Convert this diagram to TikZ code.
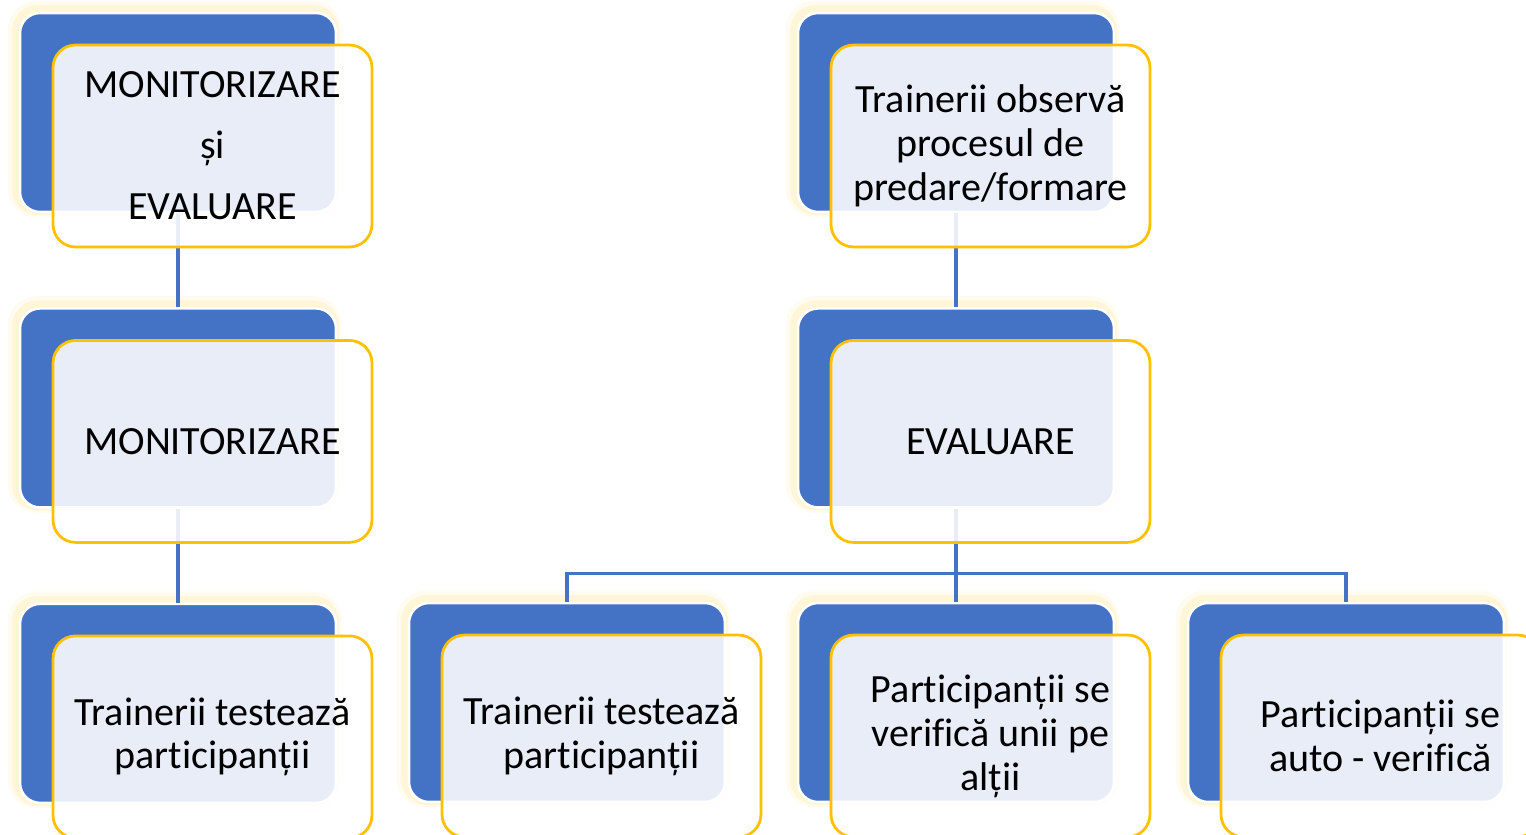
\documentclass[tikz,border=0pt]{standalone}
\usepackage{fontspec}
\setmainfont{Carlito}[Ligatures=NoCommon]
\usetikzlibrary{positioning}

\definecolor{boxblue}{HTML}{4472C4}
\definecolor{boxgold}{HTML}{FFC000}
\definecolor{glowgold}{HTML}{FFE28A}

\tikzset{
  backbox/.style={draw=white, line width=0.05cm, fill=boxblue, rounded corners=0.4cm,
    minimum width=6.32cm, minimum height=3.98cm,
    preaction={draw=glowgold, line width=0.36cm, opacity=0.12, transform canvas={xshift=-0.07cm, yshift=0.07cm}},
    preaction={draw=glowgold, line width=0.22cm, opacity=0.25, transform canvas={xshift=-0.05cm, yshift=0.05cm}}},
  frontbox/.style={draw=boxgold, line width=0.055cm, fill=white, fill opacity=0.88, text opacity=1,
    rounded corners=0.45cm, minimum width=6.38cm, minimum height=4.04cm,
    align=center, font=\fontsize{22.8pt}{25pt}\selectfont},
  link/.style={draw=boxblue, line width=0.065cm}
}

\begin{document}
\begin{tikzpicture}[x=0.02cm, y=-0.02cm]
        \useasboundingbox (0,0) rectangle (1526,835);
        \clip (0,0) rectangle (1526,835);

        % Back boxes
        \node (monevB) [backbox] at (178,112.5) {};
        \node (monB) [backbox, below=1.88cm of monevB] {};
        \node (testB) [backbox, below=1.88cm of monB] {};
        \node (obsB) [backbox] at (956,112.5) {};
        \node (evalB) [backbox, below=1.88cm of obsB] {};
        \node (testsB) [backbox] at (567,702.5) {};
        \node (peersB) [backbox] at (956,702.5) {};
        \node (selfB) [backbox] at (1346,702.5) {};

        % Edges
        \draw[link] (monevB) -- (monB);
        \draw[link] (monB) -- (testB);
        \draw[link] (obsB) -- (evalB);
        \draw[link] (evalB) -- (peersB);
        \draw[link] (evalB.south) ++(0,65) coordinate (fork);
        \draw[link] (fork) -| (testsB.north);
        \draw[link] (fork) -| (selfB.north);

        % Front boxes
        \node (monevF) [frontbox] at ([xshift=0.69cm, yshift=-0.67cm]monevB.center) {MONITORIZARE\\[9.7pt] și\\[9.7pt] EVALUARE};
        \node (monF) [frontbox] at ([xshift=0.69cm, yshift=-0.67cm]monB.center) {MONITORIZARE};
        \node (testF) [frontbox] at ([xshift=0.69cm, yshift=-0.67cm]testB.center) {Trainerii testează\\ participanții};
        \node (obsF) [frontbox] at ([xshift=0.69cm, yshift=-0.67cm]obsB.center) {Trainerii observă\\ procesul de\\ predare/formare};
        \node (evalF) [frontbox] at ([xshift=0.69cm, yshift=-0.67cm]evalB.center) {EVALUARE};
        \node (testsF) [frontbox] at ([xshift=0.69cm, yshift=-0.67cm]testsB.center) {Trainerii testează\\ participanții};
        \node (peersF) [frontbox] at ([xshift=0.69cm, yshift=-0.67cm]peersB.center) {Participanții se\\ verifică unii pe\\ alții};
        \node (selfF) [frontbox] at ([xshift=0.69cm, yshift=-0.67cm]selfB.center) {Participanții se\\ auto - verifică};
    \end{tikzpicture}
\end{document}
